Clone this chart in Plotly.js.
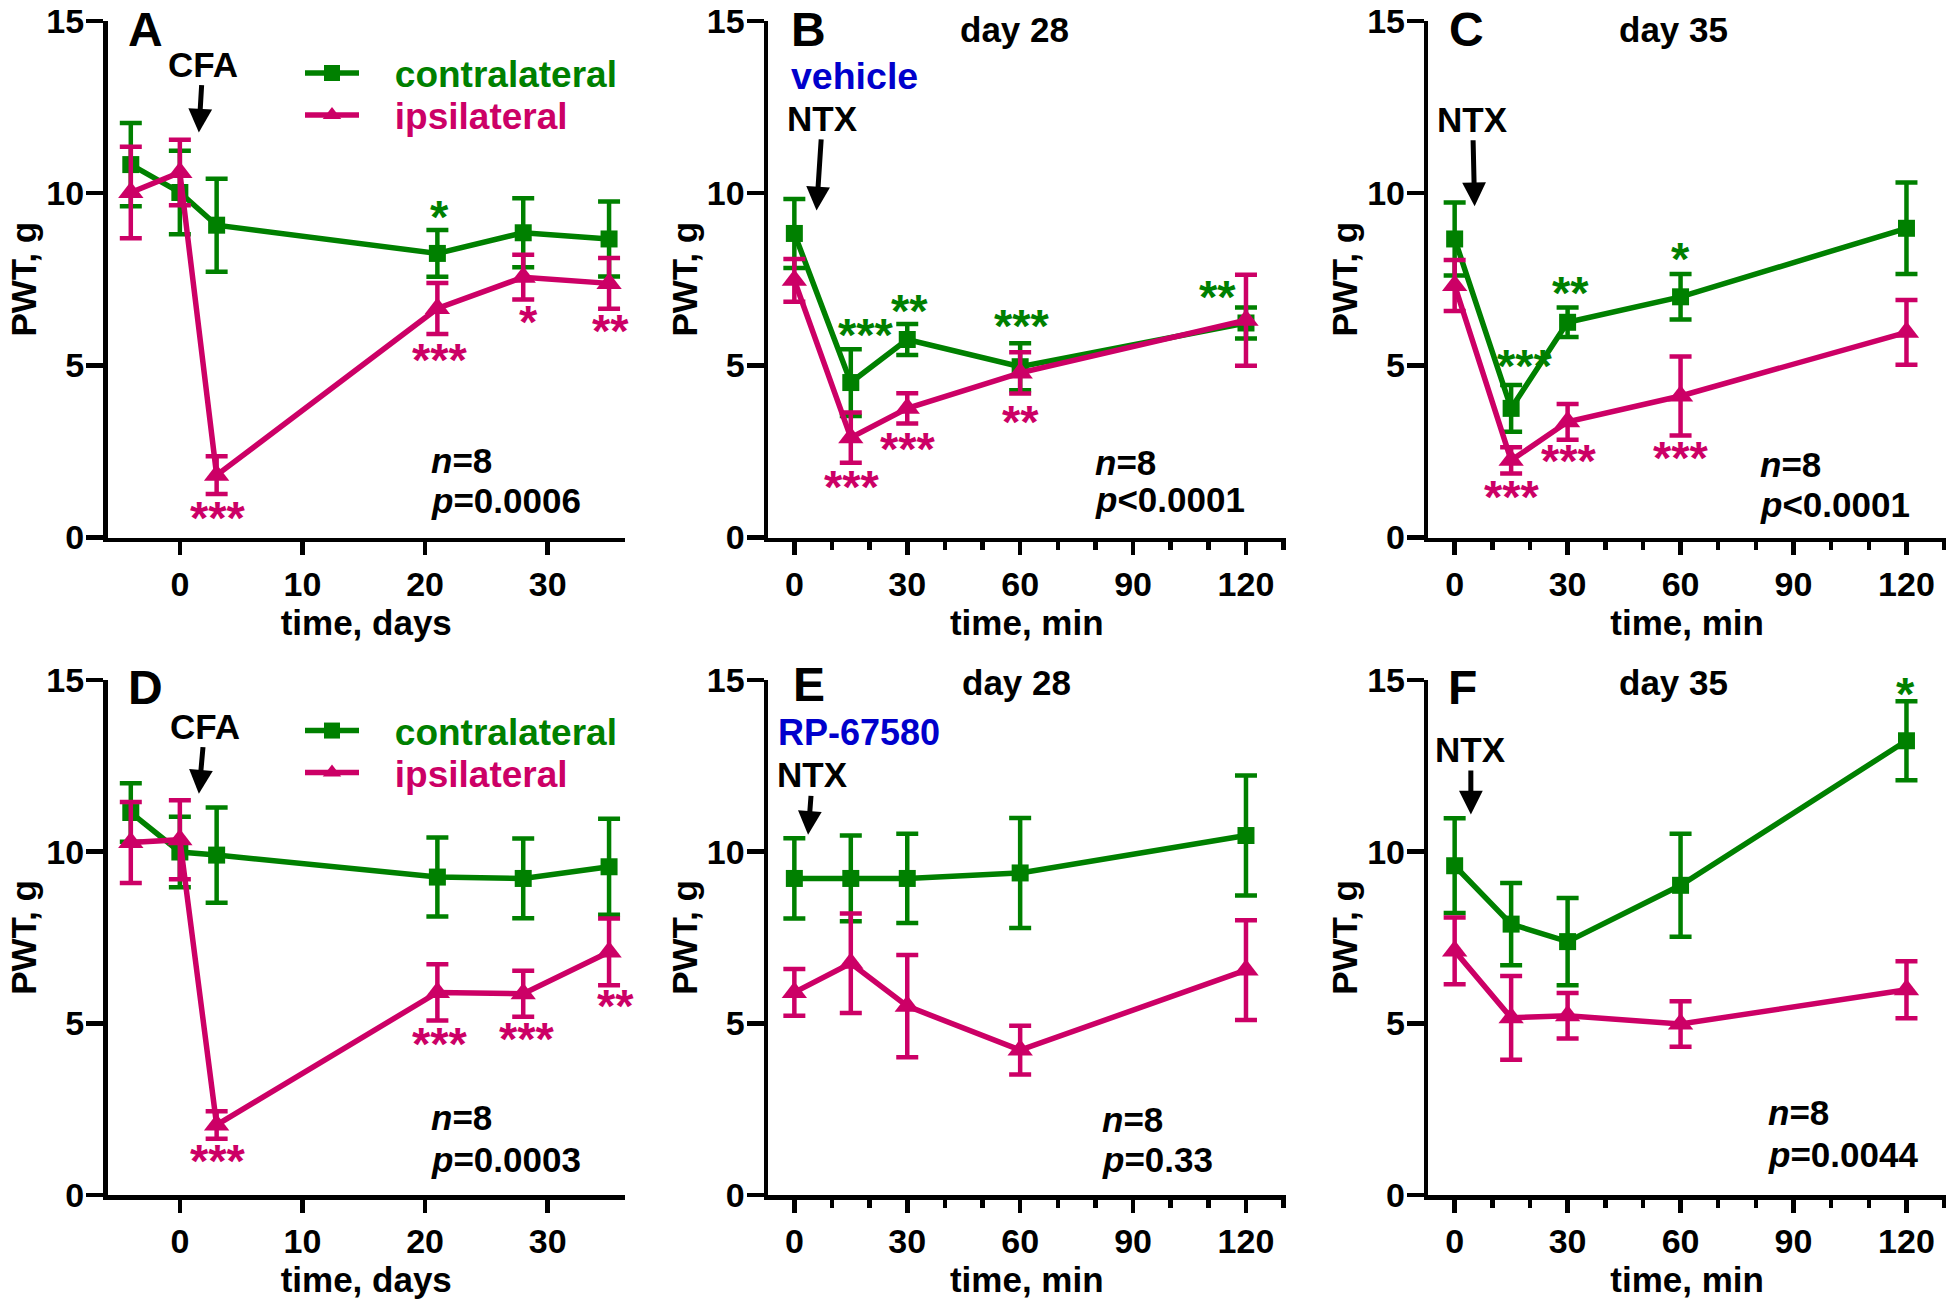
<!DOCTYPE html>
<html><head><meta charset="utf-8">
<script src="https://cdn.plot.ly/plotly-3.0.1.min.js"></script>
<style>html,body{margin:0;padding:0;background:#fff}</style>
</head><body><div id="chart" style="width:1950px;height:1300px"></div>
<script>
// ---------------- data ----------------
const daysX = [-4, 0, 3, 21, 28, 35];
const minX = [0, 15, 30, 60, 120];

const aContra = [10.83, 10.02, 9.07, 8.25, 8.85, 8.67];
const aContraSem = [1.21, 1.21, 1.35, 0.68, 1.0, 1.09];
const aIpsi = [10.02, 10.6, 1.81, 6.65, 7.56, 7.38];
const aIpsiSem = [1.33, 0.95, 0.55, 0.74, 0.65, 0.74];

const bContra = [8.83, 4.5, 5.75, 4.96, 6.23];
const bContraSem = [1.0, 0.97, 0.45, 0.68, 0.45];
const bIpsi = [7.47, 2.9, 3.75, 4.78, 6.31];
const bIpsiSem = [0.62, 0.73, 0.44, 0.6, 1.32];

const cContra = [8.67, 3.75, 6.25, 6.99, 8.98];
const cContraSem = [1.06, 0.68, 0.43, 0.66, 1.33];
const cIpsi = [7.32, 2.24, 3.36, 4.11, 5.96];
const cIpsiSem = [0.74, 0.38, 0.52, 1.15, 0.94];

const dContra = [11.14, 9.99, 9.9, 9.26, 9.22, 9.56];
const dContraSem = [0.85, 1.03, 1.39, 1.15, 1.16, 1.4];
const dIpsi = [10.27, 10.35, 2.04, 5.9, 5.86, 7.08];
const dIpsiSem = [1.18, 1.15, 0.4, 0.82, 0.67, 0.97];

const eContra = [9.22, 9.22, 9.22, 9.38, 10.47];
const eContraSem = [1.17, 1.25, 1.3, 1.6, 1.75];
const eIpsi = [5.9, 6.75, 5.5, 4.22, 6.55];
const eIpsiSem = [0.68, 1.45, 1.49, 0.71, 1.45];

const fContra = [9.59, 7.89, 7.38, 9.02, 13.23];
const fContraSem = [1.38, 1.2, 1.27, 1.5, 1.15];
const fIpsi = [7.11, 5.16, 5.22, 4.98, 5.98];
const fIpsiSem = [0.97, 1.22, 0.66, 0.66, 0.83];

const seriesNames = ['contralateral', 'ipsilateral'];
const yTicks = [0, 5, 10, 15];
const dayTicks = [0, 10, 20, 30];
const minTicks = [0, 30, 60, 90, 120];

// significance marks: [x, y, text, series(0=contra,1=ipsi)]
const starsA = [[21.2, 9.4, '*', 0], [3.1, 0.67, '***', 1], [21.2, 5.26, '***', 1], [28.4, 6.35, '*', 1], [35.1, 6.1, '**', 1]];
const starsB = [[19.1, 5.99, '***', 0], [30.6, 6.68, '**', 0], [60.5, 6.23, '***', 0], [112.5, 7.08, '**', 0],
                [15.2, 1.57, '***', 1], [30.3, 2.66, '***', 1], [60.1, 3.45, '**', 1]];
const starsC = [[18.8, 5.08, '***', 0], [30.7, 7.2, '**', 0], [60.1, 8.2, '*', 0],
                [15.3, 1.27, '***', 1], [30.3, 2.32, '***', 1], [60.1, 2.42, '***', 1]];
const starsD = [[3.1, 1.09, '***', 1], [21.2, 4.49, '***', 1], [28.3, 4.65, '***', 1], [35.5, 5.62, '**', 1]];
const starsE = [];
const starsF = [[119.7, 14.68, '*', 0]];

const panelLetters = ['A', 'B', 'C', 'D', 'E', 'F'];
const dayLabels = [null, 'day 28', 'day 35', null, 'day 28', 'day 35'];
const treatLabels = [null, 'vehicle', null, null, 'RP-67580', null];
const injectLabels = ['CFA', 'NTX', 'NTX', 'CFA', 'NTX', 'NTX'];
const nLabels = ['8', '8', '8', '8', '8', '8'];
const pLabels = ['=0.0006', '<0.0001', '<0.0001', '=0.0003', '=0.33', '=0.0044'];

// ---------------- style / layout ----------------
const GREEN = '#008000', MAG = '#CC0066', BLUE = '#0000CC';
const COLORS = [GREEN, MAG];
const SYMBOLS = ['square', 'triangle-up'];
const MSIZE = [17, 22];
const FONT = 'Liberation Sans, Arial, Helvetica, sans-serif';

const W = 1950, H = 1300;
const px = v => v / W, py = v => 1 - v / H;

const panels = [
  {xa: 'x',  ya: 'y',  xd: [107.5, 625],   yd: [21, 537.5], range: [-5.9, 36.3], ticks: dayTicks, title: 'time, days', minor: false,
   x: daysX, c: aContra, cs: aContraSem, i: aIpsi, is: aIpsiSem, stars: starsA,
   letter: [-2.77, 1], day: null, treat: null, inj: {x: 1.55, y: 11.76, ax: 4, ay: -68.5}, n: [20.3, 2.24], p: [20.3, 1.08],
   legends: ['legend', 'legend2']},
  {xa: 'x2', ya: 'y2', xd: [768, 1285.5],  yd: [21, 537.5], range: [-7, 130.5], ticks: minTicks, title: 'time, min', minor: true,
   x: minX, c: bContra, cs: bContraSem, i: bIpsi, is: bIpsiSem, stars: starsB,
   letter: [3.8, 1], day: [58.6, 14.75], treat: [16, 13.4], tsize: 37.5, inj: {x: 5.9, y: 9.5, ax: 6, ay: -92}, n: [79.4, 2.18], p: [79.4, 1.09]},
  {xa: 'x3', ya: 'y3', xd: [1428.3, 1946], yd: [21, 537.5], range: [-7, 130.5], ticks: minTicks, title: 'time, min', minor: true,
   x: minX, c: cContra, cs: cContraSem, i: cIpsi, is: cIpsiSem, stars: starsC,
   letter: [3.1, 1], day: [58, 14.75], treat: null, inj: {x: 5.3, y: 9.62, ax: -2, ay: -87}, n: [80.6, 2.12], p: [80.6, 0.95]},
  {xa: 'x4', ya: 'y4', xd: [107.5, 625],   yd: [680, 1195], range: [-5.9, 36.3], ticks: dayTicks, title: 'time, days', minor: false,
   x: daysX, c: dContra, cs: dContraSem, i: dIpsi, is: dIpsiSem, stars: starsD,
   letter: [-2.77, 659], day: null, treat: null, inj: {x: 1.55, y: 11.69, ax: 6, ay: -67.5}, n: [20.3, 2.27], p: [20.3, 1.02],
   legends: ['legend3', 'legend4']},
  {xa: 'x5', ya: 'y5', xd: [768, 1285.5],  yd: [680, 1195], range: [-7, 130.5], ticks: minTicks, title: 'time, min', minor: true,
   x: minX, c: eContra, cs: eContraSem, i: eIpsi, is: eIpsiSem, stars: starsE,
   letter: [3.8, 656], day: [58.9, 14.93], treat: [17.3, 13.46], tsize: 36, inj: {x: 3.65, y: 10.49, ax: 4.5, ay: -60}, n: [81.3, 2.19], p: [81.3, 1.02]},
  {xa: 'x6', ya: 'y6', xd: [1428.3, 1946], yd: [680, 1195], range: [-7, 130.5], ticks: minTicks, title: 'time, min', minor: true,
   x: minX, c: fContra, cs: fContraSem, i: fIpsi, is: fIpsiSem, stars: starsF,
   letter: [2.2, 659], day: [58, 14.93], treat: null, inj: {x: 4.3, y: 11.08, ax: 0, ay: -65}, n: [82.7, 2.39], p: [82.7, 1.18]}
];

const traces = [];
const annotations = [];
const layout = {
  width: W, height: H,
  margin: {l: 0, r: 0, t: 0, b: 0},
  paper_bgcolor: '#fff', plot_bgcolor: 'rgba(0,0,0,0)',
  font: {family: FONT, size: 34, color: '#000', weight: 'bold'},
  showlegend: true,
  annotations: annotations
};

const legendPos = {
  legend:  [300, 73.5],  legend2: [300, 115.5],
  legend3: [300, 731], legend4: [300, 773]
};
Object.keys(legendPos).forEach(k => {
  layout[k] = {x: px(legendPos[k][0]), y: py(legendPos[k][1]), xanchor: 'left', yanchor: 'middle',
    bgcolor: 'rgba(0,0,0,0)', borderwidth: 0, itemwidth: 54, itemclick: false, itemdoubleclick: false,
    font: {family: FONT, size: 37, weight: 'bold'}};
});

panels.forEach((P, k) => {
  const xkey = 'xaxis' + (k ? k + 1 : '');
  const ykey = 'yaxis' + (k ? k + 1 : '');
  layout[xkey] = {
    domain: [px(P.xd[0]), px(P.xd[1])], range: P.range, anchor: P.ya,
    showline: true, linewidth: 4.5, linecolor: '#000', showgrid: false, zeroline: false,
    ticks: 'outside', ticklen: 13, tickwidth: 4.5, tickcolor: '#000',
    tickmode: 'array', tickvals: P.ticks, ticktext: P.ticks.map(String),
    tickfont: {family: FONT, size: 34, weight: 'bold', color: '#000'},
    title: {text: P.title, font: {family: FONT, size: 35, weight: 'bold', color: '#000'}, standoff: 6},
    fixedrange: true
  };
  if (P.minor) layout[xkey].minor = {dtick: 10, tick0: 0, ticks: 'outside', ticklen: 8, tickwidth: 4.5, tickcolor: '#000', showgrid: false};
  layout[ykey] = {
    domain: [py(P.yd[1]), py(P.yd[0])], range: [0, 15], anchor: P.xa,
    showline: true, linewidth: 4.5, linecolor: '#000', showgrid: false, zeroline: false,
    ticks: 'outside', ticklen: 17, tickwidth: 4.5, tickcolor: '#000',
    tickmode: 'array', tickvals: yTicks, ticktext: yTicks.map(String), ticklabelstandoff: -5,
    tickfont: {family: FONT, size: 34, weight: 'bold', color: '#000'},
    title: {text: 'PWT, g', font: {family: FONT, size: 35, weight: 'bold', color: '#000'}, standoff: 0},
    fixedrange: true
  };

  [[P.c, P.cs], [P.i, P.is]].forEach((s, j) => {
    const t = {
      type: 'scatter', mode: 'lines+markers', x: P.x, y: s[0], xaxis: P.xa, yaxis: P.ya,
      name: '\u00a0\u00a0\u00a0<span style="color:' + COLORS[j] + '">' + seriesNames[j] + '</span>',
      line: {color: COLORS[j], width: 5.5},
      marker: {symbol: SYMBOLS[j], size: MSIZE[j], color: COLORS[j]},
      error_y: {type: 'data', array: s[1], visible: true, color: COLORS[j], thickness: 4.5, width: 11},
      cliponaxis: false, hoverinfo: 'x+y',
      showlegend: !!P.legends
    };
    if (P.legends) t.legend = P.legends[j];
    traces.push(t);
  });

  const ref = {xref: P.xa, yref: P.ya};
  // panel letter: x in data units, top edge given in page pixels (paper reference)
  annotations.push({text: panelLetters[k], xref: P.xa, yref: 'paper', x: P.letter[0], y: py(P.letter[1]),
    yanchor: 'top', showarrow: false, font: {family: FONT, size: 48, weight: 'bold', color: '#000'}});
  if (P.day) annotations.push(Object.assign({text: dayLabels[k], x: P.day[0], y: P.day[1], showarrow: false,
    font: {family: FONT, size: 35, weight: 'bold', color: '#000'}}, ref));
  if (P.treat) annotations.push(Object.assign({text: treatLabels[k], x: P.treat[0], y: P.treat[1], showarrow: false,
    font: {family: FONT, size: P.tsize, weight: 'bold', color: BLUE}}, ref));
  annotations.push(Object.assign({text: injectLabels[k], x: P.inj.x, y: P.inj.y, ax: P.inj.ax, ay: P.inj.ay,
    showarrow: true, arrowhead: 2, arrowsize: 0.95, arrowwidth: 5, arrowcolor: '#000',
    font: {family: FONT, size: 35, weight: 'bold', color: '#000'}}, ref));
  annotations.push(Object.assign({text: '<i>n</i>=' + nLabels[k], x: P.n[0], y: P.n[1], showarrow: false, xanchor: 'left',
    font: {family: FONT, size: 35, weight: 'bold', color: '#000'}}, ref));
  annotations.push(Object.assign({text: '<i>p</i>' + pLabels[k], x: P.p[0], y: P.p[1], showarrow: false, xanchor: 'left',
    font: {family: FONT, size: 35, weight: 'bold', color: '#000'}}, ref));
  P.stars.forEach(s => {
    annotations.push(Object.assign({text: s[2], x: s[0], y: s[1], showarrow: false, yshift: -3,
      font: {family: FONT, size: 47, weight: 'bold', color: COLORS[s[3]]}}, ref));
  });
});

Plotly.newPlot('chart', traces, layout, {staticPlot: true, displayModeBar: false});
</script>
</body></html>
